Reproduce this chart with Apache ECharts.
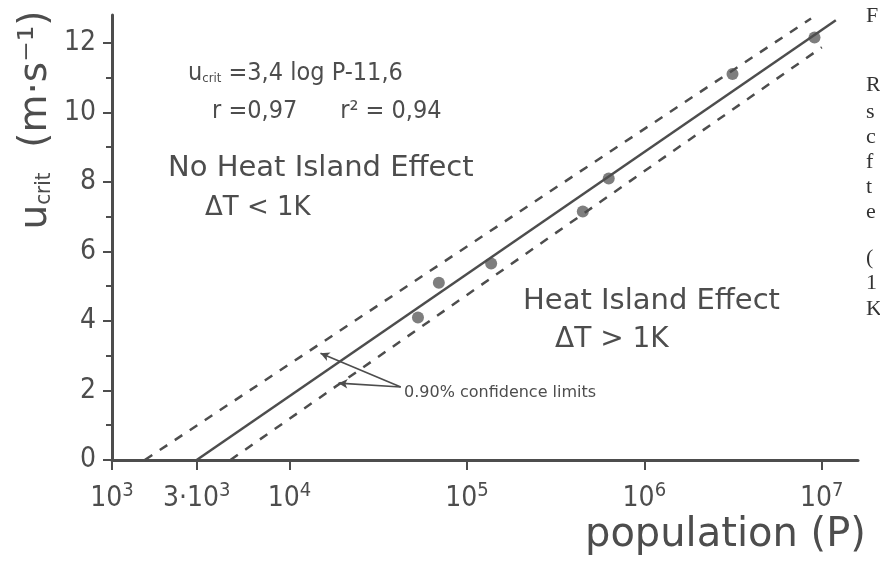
<!DOCTYPE html>
<html>
<head>
<meta charset="utf-8">
<script src="https://cdn.jsdelivr.net/npm/echarts@6/dist/echarts.min.js"></script>
<style>
  html, body { margin: 0; padding: 0; background: #ffffff; }
  #chart { width: 880px; height: 563px; }
</style>
</head>
<body>
<div id="chart"></div>
<script>
// Observed cities: population and critical wind speed (m/s)
const population = [5.3e4, 6.95e4, 1.37e5, 4.5e5, 6.3e5, 3.14e6, 9.1e6];
const uCrit = [4.1, 5.1, 5.65, 7.15, 8.1, 11.1, 12.15];

// Regression line u = 3.4 log P - 11.6 (end points of the drawn segment)
const fitPop = [3000, 1.2e7];
const fitU = [0, 12.65];

// 90 % confidence limits (end points)
const upperPop = [1530, 8.7e6];
const upperU = [0, 12.7];
const lowerPop = [4650, 1.0e7];
const lowerU = [0, 11.87];

// Axis ticks
const xTickValues = [1e3, 3e3, 1e4, 1e5, 1e6, 1e7];
const yTickValues = [0, 2, 4, 6, 8, 10, 12];
const yMinorTicks = [1, 3, 5, 7, 9, 11];

const INK = '#4d4d4d';
const NARROW = '"DejaVu Sans Condensed", "DejaVu Sans", sans-serif';
const WIDE = '"DejaVu Sans", sans-serif';

function pairs(xs, ys) { return xs.map((x, i) => [x, ys[i]]); }

function xLabel(v) {
  if (Math.abs(v - 3000) < 1) return '{b|3·10}{s|3}';
  const e = Math.round(Math.log10(v));
  return '{b|10}{s|' + e + '}';
}

const chart = echarts.init(document.getElementById('chart'), null, { renderer: 'canvas' });

// first letters of the adjoining text column: [char, centre y]
const sideLetters = [['F', 16], ['R', 85], ['s', 112], ['c', 137], ['f', 162], ['t', 187], ['e', 212], ['(', 258], ['1', 283], ['K', 309]];

const graphics = [
  // y axis title
  {
    type: 'text', x: 36, y: 120, rotation: Math.PI / 2,
    style: {
      text: '{a|u}{sub|crit}{a|  (m·s⁻¹)}',
      align: 'center', verticalAlign: 'middle',
      rich: {
        a: { fontFamily: WIDE, fontSize: 39, fill: INK },
        sub: { fontFamily: NARROW, fontSize: 22, fill: INK, padding: [16, 0, 0, 0] }
      }
    }
  },
  // x axis title
  {
    type: 'text', x: 585, y: 536,
    style: { text: 'population (P)', font: '40px ' + WIDE, fill: INK, align: 'left', verticalAlign: 'middle' }
  },
  // regression statistics
  {
    type: 'text', x: 188, y: 73,
    style: {
      text: '{a|u}{sub|crit}{a| =3,4 log P-11,6}',
      align: 'left', verticalAlign: 'middle',
      rich: {
        a: { fontFamily: NARROW, fontSize: 25, fill: INK },
        sub: { fontFamily: NARROW, fontSize: 13, fill: INK, padding: [12, 0, 0, 0] }
      }
    }
  },
  {
    type: 'text', x: 212, y: 111,
    style: { text: 'r =0,97      r² = 0,94', font: '25px ' + NARROW, fill: INK, align: 'left', verticalAlign: 'middle' }
  },
  {
    type: 'text', x: 168, y: 168,
    style: { text: 'No Heat Island Effect', font: '29px ' + WIDE, fill: INK, align: 'left', verticalAlign: 'middle' }
  },
  {
    type: 'text', x: 205, y: 208,
    style: { text: 'ΔT < 1K', font: '26px ' + WIDE, fill: INK, align: 'left', verticalAlign: 'middle' }
  },
  {
    type: 'text', x: 523, y: 301,
    style: { text: 'Heat Island Effect', font: '29px ' + WIDE, fill: INK, align: 'left', verticalAlign: 'middle' }
  },
  {
    type: 'text', x: 555, y: 340,
    style: { text: 'ΔT > 1K', font: '28px ' + WIDE, fill: INK, align: 'left', verticalAlign: 'middle' }
  },
  {
    type: 'text', x: 404, y: 393,
    style: { text: '0.90% confidence limits', font: '16px ' + WIDE, fill: INK, align: 'left', verticalAlign: 'middle' }
  }
].concat(sideLetters.map(([ch, y]) => ({
  type: 'text', x: 866, y: y,
  style: { text: ch, font: '22px "Liberation Serif", serif', fill: '#333333', align: 'left', verticalAlign: 'middle' }
})));

const option = {
  animation: false,
  backgroundColor: '#ffffff',
  grid: { left: 112, right: 22, top: 15, bottom: 103, containLabel: false },
  xAxis: {
    type: 'log',
    logBase: 10,
    min: 1000,
    max: 1.6e7,
    axisLine: { show: true, onZero: false, lineStyle: { color: INK, width: 3 } },
    axisTick: { show: true, length: 10, customValues: xTickValues, lineStyle: { color: INK, width: 2 } },
    axisLabel: {
      customValues: xTickValues,
      margin: 21,
      formatter: xLabel,
      rich: {
        b: { fontFamily: NARROW, fontSize: 28, color: INK },
        s: { fontFamily: NARROW, fontSize: 20, color: INK, padding: [0, 0, 15, 0] }
      }
    },
    splitLine: { show: false }
  },
  yAxis: [{
    type: 'value',
    min: 0,
    max: 12.8,
    axisLine: { show: true, onZero: false, lineStyle: { color: INK, width: 3 } },
    axisTick: { show: true, length: 9, customValues: yTickValues, lineStyle: { color: INK, width: 2 } },
    axisLabel: { customValues: yTickValues, margin: 16, fontFamily: NARROW, fontSize: 28, color: INK },
    splitLine: { show: false }
  }, {
    type: 'value',
    min: 0,
    max: 12.8,
    position: 'left',
    axisLine: { show: false },
    axisTick: { show: true, length: 6, customValues: yMinorTicks, lineStyle: { color: INK, width: 2 } },
    axisLabel: { show: false },
    splitLine: { show: false }
  }],
  series: [
    {
      type: 'line',
      data: pairs(upperPop, upperU),
      showSymbol: false,
      lineStyle: { color: INK, width: 2.5, type: [9, 9] },
      silent: true
    },
    {
      type: 'line',
      data: pairs(lowerPop, lowerU),
      showSymbol: false,
      lineStyle: { color: INK, width: 2.5, type: [9, 9] },
      silent: true
    },
    {
      type: 'line',
      data: pairs(fitPop, fitU),
      showSymbol: false,
      lineStyle: { color: INK, width: 2.5 },
      silent: true,
      markLine: {
        silent: true,
        symbol: ['none', 'arrow'],
        symbolSize: [7, 9],
        label: { show: false },
        lineStyle: { color: INK, width: 1.6, type: 'solid' },
        data: [
          [{ coord: [42400, 2.1] }, { coord: [14960, 3.07] }],
          [{ coord: [42400, 2.1] }, { coord: [18900, 2.21] }]
        ]
      }
    },
    {
      type: 'scatter',
      data: pairs(population, uCrit),
      symbol: 'circle',
      symbolSize: 12,
      itemStyle: { color: '#5e5e5e' },
      silent: true
    }
  ],
  graphic: graphics
};

chart.setOption(option);
</script>
</body>
</html>
